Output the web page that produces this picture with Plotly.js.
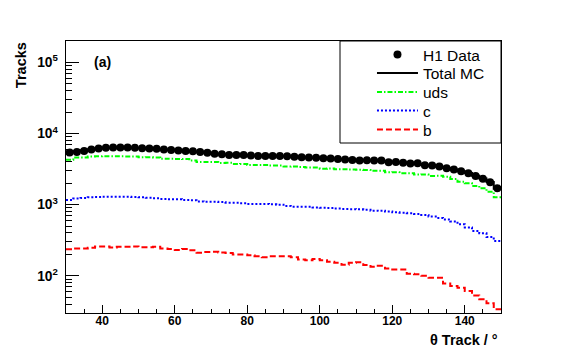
<!DOCTYPE html>
<html>
<head>
<meta charset="utf-8">
<script src="https://cdn.plot.ly/plotly-3.0.1.min.js"></script>
<style>html,body{margin:0;padding:0;background:#fff;}#chart{width:567px;height:354px;}</style>
</head>
<body>
<div id="chart"></div>
<script>
// bin centres of theta (degrees), bin width 2
const thetaCenters = [31,33,35,37,39,41,43,45,47,49,51,53,55,57,59,61,63,65,67,69,
  71,73,75,77,79,81,83,85,87,89,91,93,95,97,99,101,103,105,107,109,
  111,113,115,117,119,121,123,125,127,129,131,133,135,137,139,141,143,145,147,149];
const binWidth = 2;

const h1Data = [5400,5520,5700,5950,6150,6290,6350,6350,6350,6290,
  6230,6150,6090,5950,5890,5760,5700,5650,5520,5350,
  5180,5100,5010,5010,5010,4930,4850,4850,4850,4830,
  4800,4730,4650,4600,4550,4500,4450,4380,4300,4260,
  4170,4220,4170,4170,3950,3990,3870,3780,3830,3590,
  3540,3430,3260,3110,2950,2770,2540,2320,2070,1700];

const totalMC = [5500,5650,5800,6000,6150,6250,6300,6300,6300,6250,
  6200,6150,6050,5950,5850,5780,5700,5600,5450,5350,
  5200,5100,5050,5000,4980,4920,4870,4850,4830,4800,
  4760,4700,4650,4600,4540,4480,4430,4370,4310,4260,
  4200,4180,4150,4100,4000,3960,3880,3800,3760,3620,
  3520,3420,3270,3120,2960,2780,2560,2330,2080,1680];

const udsMC = [4265,4590,4600,4774,4780,4790,4790,4780,4770,4760,
  4625,4630,4610,4405,4420,4400,4390,4170,3990,3990,
  3990,3865,3870,3740,3745,3620,3625,3610,3540,3540,
  3430,3440,3390,3320,3325,3210,3215,3150,3145,3110,
  3085,3080,2990,2995,2855,2860,2770,2765,2650,2655,
  2540,2545,2460,2300,2100,2000,1830,1700,1520,1270];

const cMC = [1165,1220,1240,1270,1280,1297,1297,1297,1297,1285,
  1270,1250,1230,1205,1190,1190,1160,1150,1110,1100,
  1100,1090,1067,1067,1050,1024,1024,1024,1010,1000,
  960,937,937,937,915,907,900,880,869,865,
  861,850,823,820,800,780,771,760,740,716,
  680,650,620,580,530,479,427,395,351,308];

const bMC = [236,243,243,248,259,259,251,256,256,259,
  253,253,256,243,238,230,238,228,211,216,
  218,213,209,200,200,194,189,183,188,188,
  188,182,170,165,172,165,157,152,143,152,
  155,142,134,138,127,123,123,107,105,100,
  94,94,78,72,68,61,53,47,41,34];

const xTickVals = [40,60,80,100,120,140];
const legendNames = ['H1 Data','Total MC','uds','c','b'];

function stepX(centers){
  const e = centers.map(c => c - binWidth/2);
  e.push(centers[centers.length-1] + binWidth/2);
  return e;
}
function stepY(v){ return v.concat([v[v.length-1]]); }

const ex = stepX(thetaCenters);
const font = 'Liberation Sans, Arial, Helvetica, sans-serif';

const traces = [
  {x: ex, y: stepY(udsMC), mode:'lines', name:legendNames[2], legend:'legend3',
   line:{shape:'hv', color:'#00ff00', width:2, dash:'5px,2px,1.5px,2px'}},
  {x: ex, y: stepY(cMC), mode:'lines', name:legendNames[3], legend:'legend4',
   line:{shape:'hv', color:'#0000ff', width:2, dash:'2px,2px'}},
  {x: ex, y: stepY(bMC), mode:'lines', name:legendNames[4], legend:'legend5',
   line:{shape:'hv', color:'#ff0000', width:2, dash:'6px,3px'}},
  {x: ex, y: stepY(totalMC), mode:'lines', name:legendNames[1], legend:'legend2',
   line:{shape:'hv', color:'#000000', width:2}},
  {x: thetaCenters, y: h1Data, mode:'markers', name:legendNames[0], legend:'legend',
   marker:{color:'#000000', size:8, symbol:'circle'}}
];

// legend rows (paper y of row centres)
const rowY = [0.9485, 0.881, 0.811, 0.7426, 0.6728];
function mkLegend(yc){
  return {x:0.7034, xanchor:'left', y:yc, yanchor:'middle',
    bgcolor:'rgba(0,0,0,0)', borderwidth:0, itemwidth:41,
    font:{family:font, size:15.5, color:'#000'}};
}

const layout = {
  width:567, height:354,
  margin:{l:66, r:66, t:41, b:41, pad:0},
  paper_bgcolor:'#ffffff', plot_bgcolor:'#ffffff',
  showlegend:true,
  font:{family:font, color:'#000'},
  xaxis:{
    range:[30,150], tickvals:xTickVals, ticks:'inside', ticklen:8, tickwidth:1, tickcolor:'#000',
    minor:{dtick:5, tick0:0, ticks:'inside', ticklen:4, tickwidth:1, tickcolor:'#000', showgrid:false},
    showline:true, mirror:true, linecolor:'#000', linewidth:1,
    showgrid:false, zeroline:false, ticklabelstandoff:-3,
    tickfont:{family:font, size:12, weight:'bold', color:'#000'}
  },
  yaxis:{
    type:'log', range:[Math.log10(30), 5.301], dtick:1, exponentformat:'power',
    ticks:'inside', ticklen:13, tickwidth:1, tickcolor:'#000',
    minor:{dtick:'D1', ticks:'inside', ticklen:6, tickwidth:1, tickcolor:'#000', showgrid:false},
    showline:true, mirror:true, linecolor:'#000', linewidth:1,
    showgrid:false, zeroline:false, ticklabelstandoff:5,
    tickfont:{family:font, size:11, weight:'bold', color:'#000'}
  },
  legend:mkLegend(rowY[0]),
  legend2:mkLegend(rowY[1]),
  legend3:mkLegend(rowY[2]),
  legend4:mkLegend(rowY[3]),
  legend5:mkLegend(rowY[4]),
  shapes:[
    {type:'rect', xref:'paper', yref:'paper', x0:0.6299, x1:1, y0:0.625, y1:1,
     fillcolor:'#ffffff', line:{color:'#000', width:1}, layer:'above'}
  ],
  annotations:[
    {text:'(a)', xref:'paper', yref:'paper', x:0.084, y:0.923, xanchor:'center', yanchor:'middle',
     showarrow:false, font:{family:font, size:14, weight:'bold', color:'#000'}},
    {text:'Tracks', xref:'paper', yref:'paper', x:-0.103, y:0.912, xanchor:'center', yanchor:'middle',
     textangle:-90, showarrow:false, font:{family:font, size:14.5, weight:'bold', color:'#000'}},
    {text:'θ Track / °', xref:'paper', yref:'paper', x:0.998, y:-0.099, xanchor:'right', yanchor:'middle',
     showarrow:false, font:{family:font, size:14.5, weight:'bold', color:'#000'}}
  ]
};

Plotly.newPlot('chart', traces, layout, {displayModeBar:false, staticPlot:true});
</script>
</body>
</html>
